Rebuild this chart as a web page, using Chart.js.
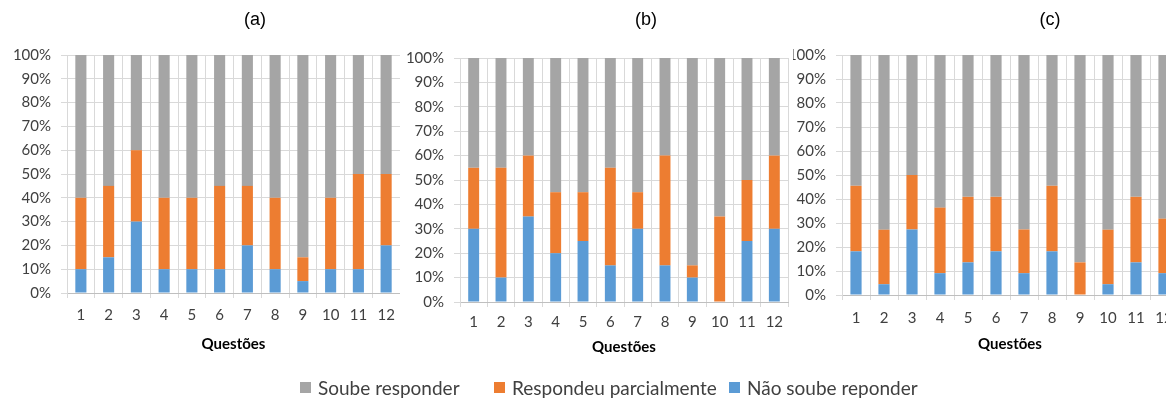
<!DOCTYPE html>
<html>
<head>
<meta charset="utf-8">
<script src="https://cdn.jsdelivr.net/npm/chart.js@4.4.1/dist/chart.umd.min.js"></script>
<style>
  html, body { margin: 0; padding: 0; background: #fff; overflow: hidden; }
  body { width: 1166px; height: 398px; position: relative; }
  canvas { position: absolute; top: 0; }
  #legend { position: absolute; top: 376px; left: 0; width: 1166px; height: 24px; z-index: 5;
            font-family: Lato, sans-serif; font-size: 19px; color: #404040; }
  .item { position: absolute; top: 0; display: flex; align-items: center; white-space: nowrap; }
  .box { width: 11px; height: 11px; margin-right: 7px; }
</style>
</head>
<body>
<canvas id="chartA" width="410" height="398" style="left:0px;z-index:1"></canvas>
<canvas id="chartC" width="410" height="398" style="left:780px;z-index:2"></canvas>
<canvas id="chartB" width="398" height="398" style="left:400px;z-index:3"></canvas>
<div id="legend"></div>
<script>
// questions 1..12
var categories = ["1", "2", "3", "4", "5", "6", "7", "8", "9", "10", "11", "12"];
var seriesNames = ["Não soube reponder", "Respondeu parcialmente", "Soube responder"];
var seriesColors = ["#5B9BD5", "#ED7D31", "#A5A5A5"];
var yTicks = [0, 10, 20, 30, 40, 50, 60, 70, 80, 90, 100];

// (a)
var naoA   = [10, 15, 30, 10, 10, 10, 20, 10, 5, 10, 10, 20];
var parcA  = [30, 30, 30, 30, 30, 35, 25, 30, 10, 30, 40, 30];
var soubeA = [60, 55, 40, 60, 60, 55, 55, 60, 85, 60, 50, 50];

// (b)
var naoB   = [30, 10, 35, 20, 25, 15, 30, 15, 10, 0, 25, 30];
var parcB  = [25, 45, 25, 25, 20, 40, 15, 45, 5, 35, 25, 30];
var soubeB = [45, 45, 40, 55, 55, 45, 55, 40, 85, 65, 50, 40];

// (c)
var naoC   = [18.2, 4.5, 27.3, 9.1, 13.6, 18.2, 9.1, 18.2, 0, 4.5, 13.6, 9.1];
var parcC  = [27.3, 22.7, 22.7, 27.3, 27.3, 22.7, 18.2, 27.3, 13.6, 22.7, 27.3, 22.7];
var soubeC = [54.5, 72.8, 50, 63.6, 59.1, 59.1, 72.7, 54.5, 86.4, 72.8, 59.1, 68.2];

Chart.defaults.font.family = "Lato, sans-serif";
Chart.defaults.color = "#404040";

// panel letter drawn at a fixed spot, plus optional white cover behind the panel
var panelPlugin = {
    id: "panel",
    beforeDraw: function (chart, args, opts) {
        if (opts.cover) {
            var ctx = chart.ctx;
            ctx.save();
            ctx.fillStyle = "#fff";
            ctx.fillRect(0, 0, chart.chartArea.right + opts.cover, chart.height);
            ctx.restore();
        }
    },
    afterDraw: function (chart, args, opts) {
        var ctx = chart.ctx;
        ctx.save();
        ctx.font = "18px 'Liberation Sans', Arial, sans-serif";
        ctx.fillStyle = "#000";
        ctx.textAlign = "center";
        ctx.textBaseline = "middle";
        ctx.fillText(opts.text, opts.x, opts.y);
        ctx.restore();
    }
};

function makeChart(id, letter, nao, parc, soube, g) {
    var data = [nao, parc, soube];
    var datasets = [];
    for (var i = 0; i < 3; i++) {
        datasets.push({
            label: seriesNames[i],
            data: data[i],
            backgroundColor: seriesColors[i],
            barPercentage: 0.4,
            categoryPercentage: 1.0
        });
    }
    return new Chart(document.getElementById(id), {
        type: "bar",
        data: { labels: categories, datasets: datasets },
        options: {
            responsive: false,
            animation: false,
            devicePixelRatio: 1,
            layout: { padding: { left: 0, right: g.padRight, top: g.padTop, bottom: g.padBottom } },
            plugins: {
                legend: { display: false },
                tooltip: { enabled: false },
                panel: { text: letter, x: g.titleX, y: 20, cover: g.cover }
            },
            scales: {
                x: {
                    stacked: true,
                    grid: { color: "#D9D9D9", tickLength: 5, offset: true },
                    border: { color: "#BFBFBF" },
                    ticks: { font: { size: 15 }, padding: g.tickPad, maxRotation: 0, autoSkip: false },
                    title: { display: true, text: "Questões", color: "#000",
                             font: { size: 15, weight: "bold" }, padding: 0 },
                    afterFit: function (s) { s.height = g.xHeight; }
                },
                y: {
                    stacked: true,
                    min: 0,
                    max: 100,
                    grid: { color: "#D9D9D9", tickLength: 6 },
                    border: { color: "#D9D9D9" },
                    afterBuildTicks: function (s) {
                        s.ticks = yTicks.map(function (v) { return { value: v }; });
                    },
                    ticks: {
                        font: { size: 15 },
                        padding: 10,
                        callback: function (v) { return v + "%"; }
                    },
                    afterFit: function (s) { s.width = g.yWidth; }
                }
            }
        },
        plugins: [panelPlugin]
    });
}

makeChart("chartA", "(a)", naoA, parcA, soubeA,
    { padRight: 10, padTop: 55, padBottom: 45, xHeight: 60, yWidth: 67, tickPad: 8, titleX: 255 });
makeChart("chartB", "(b)", naoB, parcB, soubeB,
    { padRight: 10, padTop: 58, padBottom: 42, xHeight: 54, yWidth: 60, tickPad: 6, titleX: 246, cover: 5 });
makeChart("chartC", "(c)", naoC, parcC, soubeC,
    { padRight: 12, padTop: 55, padBottom: 45, xHeight: 58, yWidth: 62, tickPad: 9, titleX: 270 });

// shared legend, grey / orange / blue
var legend = document.getElementById("legend");
var legendLeft = [300, 494, 729];
var order = [2, 1, 0];
for (var k = 0; k < 3; k++) {
    var s = order[k];
    var item = document.createElement("div");
    item.className = "item";
    item.style.left = legendLeft[k] + "px";
    var box = document.createElement("span");
    box.className = "box";
    box.style.background = seriesColors[s];
    var txt = document.createElement("span");
    txt.textContent = seriesNames[s];
    item.appendChild(box);
    item.appendChild(txt);
    legend.appendChild(item);
}
</script>
</body>
</html>
